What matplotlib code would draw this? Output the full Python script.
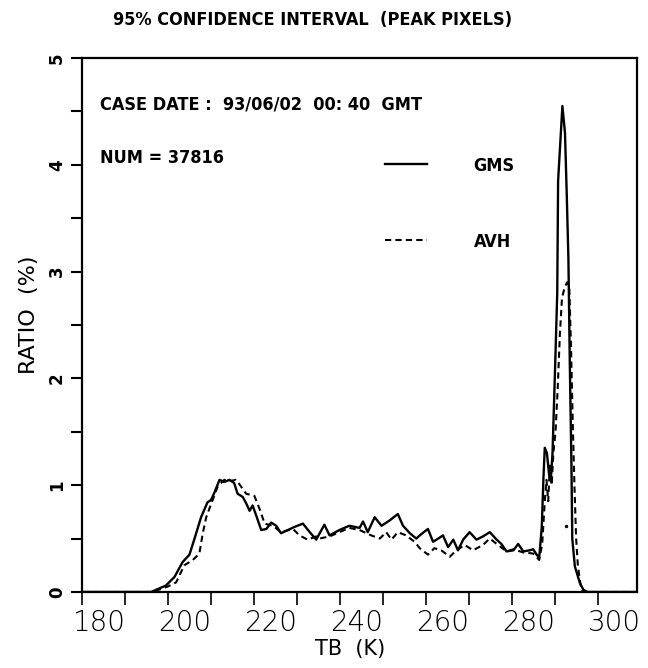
import matplotlib
matplotlib.use('Agg')
import matplotlib.pyplot as plt
from matplotlib.transforms import ScaledTranslation
from matplotlib.ticker import MultipleLocator

plt.rcParams['font.family'] = ['DejaVu Sans']

# brightness temperature (K) and ratio (%)
gms_tb = [180, 196, 197.1, 199.4, 201.4, 203.3, 204.9, 206.0, 207.6, 209.1, 209.9,
          210.7, 211.9, 213.0, 214.2, 215.3, 216.1, 217.3, 218.1, 218.9, 219.6,
          220.4, 221.6, 222.8, 223.9, 225.1, 226.2, 227.8, 229.4, 231.3, 232.9,
          234.4, 236.3, 237.5, 239.8, 242.1, 244.5, 245.3, 246.4, 248.0, 249.6,
          251.5, 253.4, 254.6, 256.2, 257.7, 258.5, 260.4, 261.6, 262.8, 263.9,
          265.1, 266.3, 267.4, 268.6, 270.1, 271.7, 273.2, 274.8, 276.4, 277.5,
          278.7, 280.3, 281.4, 282.6, 284.1, 284.9, 285.7, 286.3, 286.9, 287.3,
          287.6, 288.1, 288.6, 289.0, 289.4, 290.0, 290.5, 290.7, 291.2, 291.7,
          292.3, 292.7, 293.1, 293.4, 293.8, 294.0, 294.6, 295.8, 296.6, 297.5, 309]
gms_ratio = [0, 0, 0.02, 0.06, 0.14, 0.28, 0.35, 0.49, 0.70, 0.84, 0.86,
             0.93, 1.05, 1.03, 1.05, 1.02, 0.92, 0.89, 0.83, 0.76, 0.81,
             0.72, 0.58, 0.59, 0.65, 0.62, 0.55, 0.58, 0.61, 0.64, 0.56,
             0.49, 0.63, 0.53, 0.58, 0.62, 0.60, 0.66, 0.56, 0.70, 0.62,
             0.67, 0.73, 0.62, 0.55, 0.50, 0.53, 0.59, 0.47, 0.50, 0.53,
             0.42, 0.49, 0.39, 0.49, 0.56, 0.49, 0.52, 0.56, 0.49, 0.45,
             0.38, 0.39, 0.45, 0.38, 0.39, 0.40, 0.35, 0.32, 0.61, 1.08,
             1.35, 1.30, 1.10, 1.05, 1.30, 2.10, 2.80, 3.85, 4.20, 4.55,
             4.30, 3.74, 3.12, 2.20, 1.20, 0.50, 0.24, 0.08, 0.02, 0, 0]

avh_tb = [180, 197, 197.7, 199.8, 201.8, 203.7, 205.7, 207.2, 208.0, 208.8, 209.9,
          211.5, 213.0, 214.5, 215.7, 216.5, 218.1, 220.0, 221.2, 222.4, 224.3,
          226.2, 229.0, 230.5, 232.4, 234.4, 235.1, 237.5, 239.8, 242.1, 244.5,
          247.2, 249.2, 250.7, 251.9, 253.4, 255.3, 257.3, 258.5, 260.4, 261.9,
          263.5, 265.5, 267.0, 269.0, 270.9, 273.2, 274.8, 276.4, 278.7, 280.3,
          282.6, 284.9, 286.3, 287.0, 287.6, 288.0, 288.4, 288.8, 289.2, 289.6,
          290.1, 290.6, 291.1, 291.6, 292.2, 292.8, 293.3, 293.7, 294.1, 294.5,
          294.9, 295.3, 295.8, 296.3, 309]
avh_ratio = [0, 0, 0.02, 0.05, 0.09, 0.25, 0.30, 0.36, 0.55, 0.70, 0.82,
             0.99, 1.05, 1.04, 1.05, 1.01, 0.92, 0.90, 0.78, 0.64, 0.62,
             0.56, 0.59, 0.53, 0.49, 0.52, 0.50, 0.52, 0.56, 0.60, 0.58,
             0.53, 0.50, 0.56, 0.49, 0.56, 0.53, 0.47, 0.41, 0.35, 0.41,
             0.39, 0.33, 0.39, 0.44, 0.39, 0.44, 0.50, 0.45, 0.38, 0.40,
             0.37, 0.36, 0.30, 0.45, 0.85, 1.05, 0.85, 1.20, 1.00, 1.30,
             1.50, 1.90, 2.40, 2.75, 2.85, 2.90, 2.85, 2.30, 1.60, 1.00,
             0.50, 0.25, 0.10, 0.0, 0]

stray_tb = [292.5]
stray_ratio = [0.62]

xticks = [180, 200, 220, 240, 260, 280, 300]
yticks = [0, 1, 2, 3, 4, 5]

fig = plt.figure(figsize=(6.48, 6.68), dpi=100)
ax = fig.add_axes([0.1273, 0.1138, 0.8553, 0.7994])

ax.plot(gms_tb, gms_ratio, color='black', lw=1.7, label='GMS')
ax.plot(avh_tb, avh_ratio, color='black', lw=1.5, ls=(0, (3, 2)), label='AVH')
ax.plot(stray_tb, stray_ratio, 'k.', ms=3)

ax.set_xlim(180, 309)
ax.set_ylim(0, 5)
ax.set_xticks(xticks)
ax.xaxis.set_minor_locator(MultipleLocator(10))
ax.set_yticks(yticks)
ax.yaxis.set_minor_locator(MultipleLocator(0.5))

for s in ax.spines.values():
    s.set_linewidth(1.6)

ax.tick_params(axis='x', which='both', direction='out', length=9, width=1.2, pad=3)
ax.tick_params(axis='x', labelsize=20)
ax.tick_params(axis='y', which='both', direction='out', length=8, width=1.5, pad=4)
ax.tick_params(axis='y', labelsize=12, labelrotation=90)
for lbl in ax.get_xticklabels():
    lbl.set_fontweight('light')
    lbl.set_transform(lbl.get_transform() + ScaledTranslation(12 / 72, 0, fig.dpi_scale_trans))
for lbl in ax.get_yticklabels():
    lbl.set_fontweight('bold')
    lbl.set_verticalalignment('center')

ax.set_xlabel('TB  (K)', fontsize=15)
ax.xaxis.set_label_coords(0.483, -0.088)
ax.set_ylabel('RATIO  (%)', fontsize=16)
ax.yaxis.set_label_coords(-0.078, 0.52)

bold = dict(fontsize=13, fontweight='bold', fontstretch='condensed')

fig.text(0.482, 0.970, '95% CONFIDENCE INTERVAL  (PEAK PIXELS)', ha='center', va='center', **bold)

ax.text(0.032, 0.912, 'CASE DATE :  93/06/02  00: 40  GMT', transform=ax.transAxes,
        va='center', **bold)
ax.text(0.032, 0.813, 'NUM = 37816', transform=ax.transAxes, va='center', **bold)

leg = ax.legend(loc='upper left', bbox_to_anchor=(0.546, 0.815), frameon=False,
                handlelength=2.3, handletextpad=2.6, labelspacing=3.2,
                borderpad=0, borderaxespad=0,
                prop={'size': 13, 'weight': 'bold', 'stretch': 'condensed'})

fig.savefig('out.png', dpi=100)
